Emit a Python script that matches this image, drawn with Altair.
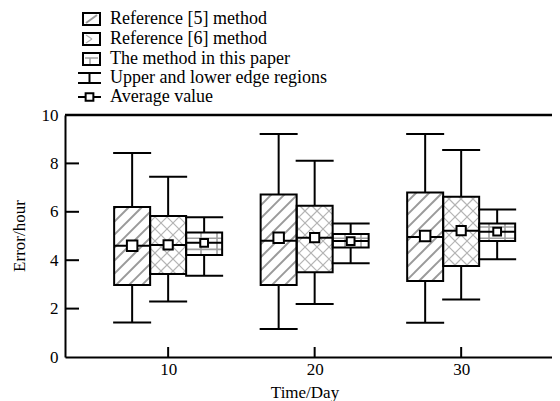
import math
import altair as alt
import pandas as pd

# ---------------- data ----------------
days = [10, 20, 30]
methods = ["Reference [5] method", "Reference [6] method", "The method in this paper"]

low = {
    methods[0]: [1.43, 1.16, 1.42],
    methods[1]: [2.29, 2.19, 2.38],
    methods[2]: [3.36, 3.87, 4.04],
}
q1 = {
    methods[0]: [2.98, 2.98, 3.14],
    methods[1]: [3.43, 3.50, 3.76],
    methods[2]: [4.21, 4.52, 4.79],
}
median = {
    methods[0]: [4.60, 4.80, 4.96],
    methods[1]: [4.63, 4.93, 5.22],
    methods[2]: [4.72, 4.79, 5.18],
}
q3 = {
    methods[0]: [6.20, 6.72, 6.80],
    methods[1]: [5.83, 6.25, 6.62],
    methods[2]: [5.14, 5.08, 5.52],
}
high = {
    methods[0]: [8.43, 9.21, 9.21],
    methods[1]: [7.45, 8.11, 8.55],
    methods[2]: [5.77, 5.52, 6.10],
}
mean = {
    methods[0]: [4.60, 4.93, 5.00],
    methods[1]: [4.63, 4.93, 5.22],
    methods[2]: [4.72, 4.79, 5.18],
}
y_ticks = [0, 2, 4, 6, 8, 10]
x_title = "Time/Day"
y_title = "Error/hour"
legend_labels = methods + ["Upper and lower edge regions", "Average value"]

# ---------------- layout / style ----------------
W, H = 487, 242
X_DOM = [2.96, 36.2]
Y_DOM = [0, 10]
SX = W / (X_DOM[1] - X_DOM[0])
SY = H / (Y_DOM[1] - Y_DOM[0])
BOX_PX = 36
CAP_PX = 38
FONT = "Times New Roman, Liberation Serif, serif"


def to_px(x, y):
    return (x - X_DOM[0]) * SX, (Y_DOM[1] - y) * SY


def to_data(px, py):
    return X_DOM[0] + px / SX, Y_DOM[1] - py / SY


rows = []
for mi, m in enumerate(methods):
    for di, d in enumerate(days):
        xc = d + (mi - 1) * BOX_PX / SX
        rows.append(dict(
            day=d, method=m, xc=xc,
            xl=xc - BOX_PX / 2 / SX, xr=xc + BOX_PX / 2 / SX,
            capl=xc - CAP_PX / 2 / SX, capr=xc + CAP_PX / 2 / SX,
            low=low[m][di], q1=q1[m][di], med=median[m][di],
            q3=q3[m][di], high=high[m][di], mean=mean[m][di],
        ))
df = pd.DataFrame(rows)


# hatch segments computed from each box's extent, drawn through the scales
def diag_up(x0, x1, y0, y1, p):
    segs = []
    c = math.ceil((x0 + y0) / p) * p
    while c < x1 + y1:
        xa, xb = max(x0, c - y1), min(x1, c - y0)
        if xb - xa > 0.5:
            segs.append((xa, c - xa, xb, c - xb))
        c += p
    return segs


def diag_down(x0, x1, y0, y1, p):
    segs = []
    c = math.ceil((y0 - x1) / p) * p
    while c < y1 - x0:
        xa, xb = max(x0, y0 - c), min(x1, y1 - c)
        if xb - xa > 0.5:
            segs.append((xa, xa + c, xb, xb + c))
        c += p
    return segs


def grid(x0, x1, y0, y1, p):
    segs = []
    v = math.ceil(x0 / p) * p + p / 2
    while v < x1:
        if v > x0 + 1:
            segs.append((v, y0, v, y1))
        v += p
    h = math.ceil(y0 / (p * 0.7)) * p * 0.7
    while h < y1:
        if h > y0 + 1:
            segs.append((x0, h, x1, h))
        h += p * 0.7
    return segs


hatch_rows = []
for _, r in df.iterrows():
    x0, y0 = to_px(r.xl, r.q3)
    x1, y1 = to_px(r.xr, r.q1)
    if r.method == methods[0]:
        segs = [("a", s) for s in diag_up(x0, x1, y0, y1, 13)]
    elif r.method == methods[1]:
        segs = [("b", s) for s in diag_up(x0, x1, y0, y1, 12) + diag_down(x0, x1, y0, y1, 12)]
    else:
        segs = [("c", s) for s in grid(x0, x1, y0, y1, 16)]
    for kind, (ax, ay, bx, by) in segs:
        dx, dy = to_data(ax, ay)
        dx2, dy2 = to_data(bx, by)
        hatch_rows.append(dict(kind=kind, x=dx, y=dy, x2=dx2, y2=dy2))
hatch = pd.DataFrame(hatch_rows)

xs = alt.Scale(domain=X_DOM, nice=False, zero=False)
ys = alt.Scale(domain=Y_DOM, nice=False, zero=False)
x_axis = alt.Axis(values=days, ticks=False, labelFont=FONT, labelFontSize=17,
                  labelColor="black", labelPadding=4, domainColor="black",
                  domainWidth=2, grid=False, title=None, labelAngle=0)
y_axis = alt.Axis(values=y_ticks, ticks=False, labelFont=FONT, labelFontSize=17,
                  labelColor="black", labelPadding=7, domainColor="black",
                  domainWidth=2, grid=False, title=None)


def X(f):
    return alt.X(f, type="quantitative", scale=xs, axis=x_axis)


def Y(f):
    return alt.Y(f, type="quantitative", scale=ys, axis=y_axis)


base = alt.Chart(df)

box_fill = base.mark_rect(fill="white", strokeWidth=0).encode(
    x=X("xl"), x2="xr", y=Y("q1"), y2="q3")

hatch_styles = {"a": ("#9a9a9a", 2.0), "b": ("#b4b4b4", 1.2), "c": ("#a0a0a0", 1.6)}
hatch_layers = []
for k, (col, sw) in hatch_styles.items():
    hatch_layers.append(
        alt.Chart(hatch[hatch.kind == k]).mark_rule(color=col, strokeWidth=sw).encode(
            x=X("x"), y=Y("y"), x2="x2", y2="y2"))

box_line = base.mark_rect(fillOpacity=0, stroke="black", strokeWidth=2).encode(
    x=X("xl"), x2="xr", y=Y("q1"), y2="q3")
wh_up = base.mark_rule(color="black", strokeWidth=2).encode(x=X("xc"), y=Y("q3"), y2="high")
wh_dn = base.mark_rule(color="black", strokeWidth=2).encode(x=X("xc"), y=Y("low"), y2="q1")
cap_up = base.mark_rule(color="black", strokeWidth=2).encode(x=X("capl"), x2="capr", y=Y("high"))
cap_dn = base.mark_rule(color="black", strokeWidth=2).encode(x=X("capl"), x2="capr", y=Y("low"))
med_line = base.mark_rule(color="black", strokeWidth=2).encode(x=X("xl"), x2="xr", y=Y("med"))
mean_pt = base.mark_point(shape="square", filled=True, fill="white", stroke="black",
                          strokeWidth=2, opacity=1).encode(
    x=X("xc"), y=Y("mean"),
    size=alt.Size("method:N", scale=alt.Scale(domain=methods, range=[110, 60, 22]), legend=None))

# inward axis ticks
ytk = alt.Chart(pd.DataFrame({"t": y_ticks[1:-1]})).mark_rule(color="black", strokeWidth=2).encode(
    y=Y("t"), x=alt.value(0), x2=alt.value(14))
xtk = alt.Chart(pd.DataFrame({"t": days})).mark_rule(color="black", strokeWidth=2).encode(
    x=X("t"), y=alt.value(H), y2=alt.value(H - 10))
top_line = alt.Chart(pd.DataFrame({"t": [Y_DOM[1]]})).mark_rule(color="black", strokeWidth=2.5).encode(
    y=Y("t"), x=alt.value(0), x2=alt.value(W))

# ---------------- manual legend ----------------
one = pd.DataFrame({"a": [0]})
ROW_Y = [-96, -76, -56, -37, -18]
SYM_X0, SYM_X1 = 18, 35
leg = []
for i in range(3):
    cy = ROW_Y[i]
    t, b = cy - 6, cy + 6
    leg.append(alt.Chart(one).mark_rect(fill="white", stroke="black", strokeWidth=2).encode(
        x=alt.value(SYM_X0), x2=alt.value(SYM_X1), y=alt.value(t), y2=alt.value(b)))
segs = [
    (0, "#9a9a9a", 2.0, SYM_X0 + 3, ROW_Y[0] + 4, SYM_X1 - 3, ROW_Y[0] - 4),
    (1, "#b4b4b4", 1.3, SYM_X0 + 3, ROW_Y[1] - 4, SYM_X0 + 9, ROW_Y[1]),
    (1, "#b4b4b4", 1.3, SYM_X0 + 3, ROW_Y[1] + 4, SYM_X0 + 9, ROW_Y[1]),
    (2, "#a0a0a0", 1.5, SYM_X0 + 2, ROW_Y[2] - 1, SYM_X1 - 2, ROW_Y[2] - 1),
    (2, "#a0a0a0", 1.5, SYM_X0 + 7, ROW_Y[2] - 1, SYM_X0 + 7, ROW_Y[2] + 5),
]
for _, col, sw, ax, ay, bx, by in segs:
    leg.append(alt.Chart(one).mark_rule(color=col, strokeWidth=sw).encode(
        x=alt.value(ax), y=alt.value(ay), x2=alt.value(bx), y2=alt.value(by)))
# whisker symbol
cy = ROW_Y[3]
for yy in (cy - 5, cy + 5):
    leg.append(alt.Chart(one).mark_rule(color="black", strokeWidth=2).encode(
        x=alt.value(13), x2=alt.value(36), y=alt.value(yy)))
leg.append(alt.Chart(one).mark_rule(color="black", strokeWidth=2).encode(
    x=alt.value(24.5), y=alt.value(cy - 5), y2=alt.value(cy + 5)))
# average symbol
cy = ROW_Y[4]
leg.append(alt.Chart(one).mark_rule(color="black", strokeWidth=2).encode(
    x=alt.value(13), x2=alt.value(36), y=alt.value(cy)))
leg.append(alt.Chart(one).mark_point(shape="square", filled=True, fill="white", stroke="black",
                                     strokeWidth=2, opacity=1, size=60).encode(
    x=alt.value(24.5), y=alt.value(cy)))
leg_text = alt.Chart(pd.DataFrame({"label": legend_labels, "ly": ROW_Y})).mark_text(
    align="left", baseline="middle", font=FONT, fontSize=18, color="black").encode(
    x=alt.value(45), y=alt.Y("ly:Q", scale=None), text="label:N")

# axis titles
ytitle = alt.Chart(one).mark_text(font=FONT, fontSize=17, angle=270, color="black",
                                  baseline="middle", align="center").encode(
    x=alt.value(-45), y=alt.value(H / 2), text=alt.value(y_title))
xtitle = alt.Chart(one).mark_text(font=FONT, fontSize=17, color="black",
                                  baseline="alphabetic", align="center").encode(
    x=alt.value(240), y=alt.value(283), text=alt.value(x_title))

chart = alt.layer(
    box_fill, *hatch_layers, box_line, wh_up, wh_dn, cap_up, cap_dn, med_line, mean_pt,
    ytk, xtk, top_line, *leg, leg_text, ytitle, xtitle,
).properties(
    width=W, height=H,
    autosize=alt.AutoSizeParams(type="none"),
    padding={"left": 57, "top": 107, "right": 0, "bottom": 46},
).configure_view(stroke=None)

chart.save("out.html", embed_options={"renderer": "svg", "actions": False})
